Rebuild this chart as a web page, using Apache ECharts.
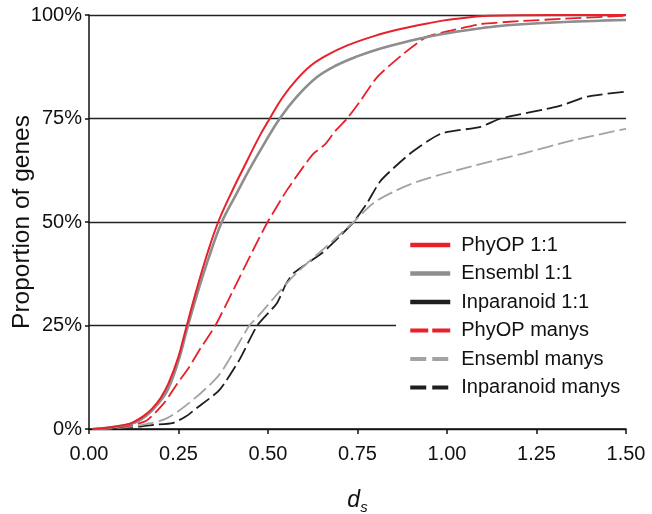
<!DOCTYPE html>
<html><head><meta charset="utf-8">
<script src="https://cdn.jsdelivr.net/npm/echarts@6/dist/echarts.min.js"></script>
<style>html,body{margin:0;padding:0;background:#fff}#c{width:652px;height:514px}</style>
</head><body><div id="c"></div><script>
// ---- data (d_s, % of genes) ----
const seriesNames = ['PhyOP 1:1','Ensembl 1:1','Inparanoid 1:1','PhyOP manys','Ensembl manys','Inparanoid manys'];
const xTickLabels = ['0.00','0.25','0.50','0.75','1.00','1.25','1.50'];
const yTickLabels = ['0%','25%','50%','75%','100%'];
const phyop11 = [[0.01,0],[0.05,0.3],[0.10,1.0],[0.12,1.5],[0.15,3],[0.175,4.8],[0.20,7.5],[0.222,11],[0.25,17.5],[0.27,24],[0.30,33.5],[0.331,42.5],[0.361,50],[0.40,57.5],[0.44,64.5],[0.475,70.5],[0.505,75],[0.54,80],[0.581,84.5],[0.62,87.8],[0.665,90.3],[0.72,92.6],[0.796,94.9],[0.87,96.6],[0.954,98.1],[1.01,98.9],[1.12,99.8],[1.30,100],[1.50,100]];
const ensembl11 = [[0.01,0],[0.05,0.3],[0.10,0.9],[0.13,1.6],[0.16,3.2],[0.19,5.8],[0.22,9.5],[0.25,16.5],[0.275,24.5],[0.30,32],[0.335,41.5],[0.371,50],[0.41,56.5],[0.45,63],[0.49,69],[0.533,75],[0.58,80.2],[0.637,85],[0.69,87.8],[0.749,90],[0.81,91.8],[0.87,93.2],[0.98,95.3],[1.14,97.3],[1.30,98.2],[1.50,98.8]];
const inparanoid11 = [[0.01,0],[0.05,0.3],[0.10,0.9],[0.13,1.6],[0.16,3.2],[0.19,5.8],[0.22,9.5],[0.25,16.5],[0.275,24.5],[0.30,32],[0.335,41.5],[0.371,50],[0.41,56.5],[0.45,63],[0.49,69],[0.533,75],[0.58,80.2],[0.637,85],[0.69,87.8],[0.749,90],[0.81,91.8],[0.87,93.2],[0.98,95.3],[1.14,97.3],[1.30,98.2],[1.50,98.8]];
const phyopManys = [[0.02,0],[0.10,0.6],[0.16,2],[0.21,6.3],[0.247,11],[0.28,15],[0.308,19],[0.353,25],[0.40,33],[0.457,43],[0.499,50],[0.553,57.7],[0.60,63.5],[0.627,66.5],[0.66,68.8],[0.688,72],[0.721,75],[0.76,79.5],[0.805,85],[0.879,90.7],[0.945,94.8],[1.01,96.2],[1.094,97.8],[1.20,98.5],[1.327,99.1],[1.50,99.8]];
const ensemblManys = [[0.02,0],[0.10,0.4],[0.16,1.2],[0.215,2.5],[0.28,6.3],[0.359,12.6],[0.40,18],[0.448,25],[0.47,27],[0.52,32],[0.58,37.7],[0.683,45.6],[0.739,50],[0.795,54.6],[0.86,57.7],[0.926,60],[1.066,63.4],[1.215,66.6],[1.355,69.8],[1.50,72.5]];
const inparanoidManys = [[0.02,0],[0.10,0.2],[0.18,1],[0.233,1.4],[0.27,3],[0.30,5],[0.364,9.4],[0.42,16.7],[0.47,25],[0.525,30.4],[0.55,35],[0.572,37.7],[0.651,42.5],[0.70,46.5],[0.739,50],[0.777,54.6],[0.815,60],[0.898,66.6],[0.982,71.3],[1.094,73],[1.15,75],[1.31,77.9],[1.393,80.3],[1.50,81.5]];

const FONT = '"Liberation Sans", Arial, sans-serif';
const chart = echarts.init(document.getElementById('c'), null, {renderer:'canvas'});
const dash = [16,5];
function mk(name, data, color, width, type, z, smooth){
  return {name, type:'line', data, showSymbol:false, symbol:'none', smooth:smooth,
    lineStyle:{color, width, type}, itemStyle:{color}, z, animation:false};
}
chart.setOption({
  animation:false,
  textStyle:{fontFamily:FONT},
  grid:{left:89, right:26, top:15, bottom:85, containLabel:false, outerBoundsMode:'none'},
  xAxis:{type:'value', min:0, max:1.5, interval:0.25,
    name:'{d|d}{s|s}', nameLocation:'middle', nameGap:57, nameMoveOverlap:false,
    nameTextStyle:{rich:{d:{fontSize:23, fontStyle:'italic', color:'#111', fontFamily:FONT},
                         s:{fontSize:15, fontStyle:'italic', color:'#111', fontFamily:FONT, padding:[14,0,0,0]}}},
    axisLine:{show:true, onZero:false, lineStyle:{color:'#111', width:1.5}},
    axisTick:{show:true, inside:false, length:5, lineStyle:{color:'#111', width:1.5}},
    axisLabel:{fontSize:20, color:'#111', margin:15, fontFamily:FONT,
      formatter:v=>xTickLabels[Math.round(v/0.25)]},
    splitLine:{show:false}},
  yAxis:{type:'value', min:0, max:100, interval:25,
    name:'Proportion of genes', nameLocation:'middle', nameGap:54, nameMoveOverlap:false,
    nameTextStyle:{fontSize:24.5, color:'#111', fontFamily:FONT},
    axisLine:{show:true, lineStyle:{color:'#111', width:1.5}},
    axisTick:{show:true, inside:false, length:4, lineStyle:{color:'#111', width:1.5}},
    axisLabel:{fontSize:20, color:'#111', margin:7, fontFamily:FONT,
      formatter:v=>yTickLabels[Math.round(v/25)]},
    splitLine:{show:true, lineStyle:{color:'#222', width:1.3}}},
  legend:{orient:'vertical', left:396, top:229, backgroundColor:'#fff',
    padding:[6,8,6,12], itemWidth:40, itemHeight:14, itemGap:8.5,
    itemStyle:{opacity:0},
    textStyle:{fontSize:20, color:'#111', fontFamily:FONT, padding:[0,0,0,6]},
    data:[
      {name:seriesNames[0], lineStyle:{width:4.5}},
      {name:seriesNames[1], lineStyle:{width:4.5}},
      {name:seriesNames[2], lineStyle:{width:4.5}},
      {name:seriesNames[3], lineStyle:{width:4, type:[18,4]}},
      {name:seriesNames[4], lineStyle:{width:4, type:[16,6]}},
      {name:seriesNames[5], lineStyle:{width:4, type:[16,6]}}
    ]},
  series:[
    mk(seriesNames[5], inparanoidManys, '#1e1e1e', 1.8, dash, 2, 0.2),
    mk(seriesNames[4], ensemblManys, '#a3a3a3', 1.8, dash, 2, 0.3),
    mk(seriesNames[3], phyopManys, '#e8202a', 1.8, dash, 3, 0.2),
    mk(seriesNames[2], inparanoid11, '#1e1e1e', 1.2, 'solid', 3, 0.4),
    mk(seriesNames[1], ensembl11, '#8e8e8e', 2.6, 'solid', 4, 0.4),
    mk(seriesNames[0], phyop11, '#e8202a', 2, 'solid', 5, 0.4)
  ]
});
</script></body></html>
